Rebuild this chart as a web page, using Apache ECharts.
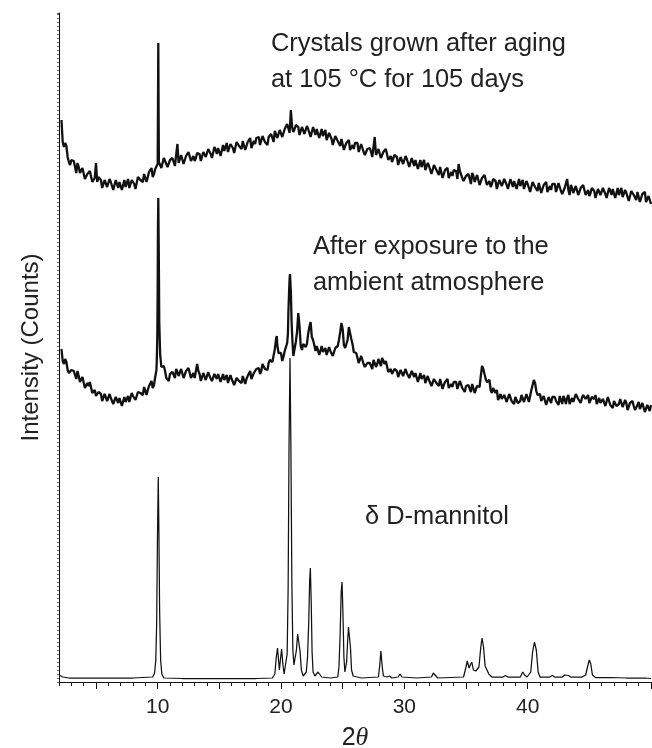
<!DOCTYPE html>
<html>
<head>
<meta charset="utf-8">
<script src="https://cdn.jsdelivr.net/npm/echarts@6.0.0/dist/echarts.min.js"></script>
<style>
html,body{margin:0;padding:0;background:#fff;}
#chart{width:652px;height:748px;}
</style>
</head>
<body>
<div id="chart"></div>
<script>
// ---- scan grid for the two measured (noisy) patterns: two interleaved sample sets ----
const gridStartA = 2.2;   // samples at 2.2, 2.4, ... 50.0
const gridStartB = 2.3;   // samples at 2.3, 2.5, ... 49.9
const gridStep = 0.2;

// Top pattern: crystals grown after aging at 105 °C for 105 days
const topY = [
  562,535,536,520,522,521,509,515,509,514,
  503,506,511,501,519,505,502,494,503,497,
  500,492,502,494,499,492,495,503,494,500,
  493,505,502,500,510,505,512,505,513,518,
  522,516,526,515,522,524,516,538,521,528,
  520,524,531,522,521,529,528,521,532,527,
  531,524,535,528,533,527,531,539,530,536,
  529,540,536,533,543,536,542,534,541,544,
  545,538,548,538,545,548,540,549,546,554,
  547,552,559,572,550,557,555,547,556,550,
  553,545,555,547,552,544,546,552,542,546,
  537,546,541,536,544,536,540,532,537,539,
  539,531,539,527,533,534,525,545,528,534,
  525,528,533,523,520,527,525,517,526,520,
  523,515,524,516,521,513,515,522,512,516,
  508,517,512,507,516,508,513,504,510,512,
  511,518,512,501,506,508,498,506,501,508,
  498,502,507,498,495,503,501,493,503,498,
  500,493,503,495,500,493,496,502,493,498,
  490,500,495,491,500,493,498,490,496,498,
  498,491,500,488,494,503,487,494,490,497,
  488,492,497,488,486,494,491,484,494,489,
  491,484,494,487,492,484,487,494,485,489,
  481,491,487,482,491,484,489,480,486,478
];
const topY2 = [
  540,539,525,517,522,515,519,509,514,503,
  508,511,500,504,500,505,494,502,495,503,
  496,492,498,500,492,502,494,494,502,498,
  495,504,502,508,500,510,514,508,511,520,
  514,524,518,514,524,520,527,519,527,518,
  526,530,521,526,524,530,521,530,525,533,
  528,524,532,534,526,537,530,530,538,534,
  530,539,535,541,532,540,544,536,538,543,
  537,546,540,537,547,544,551,544,552,545,
  553,558,549,555,553,558,547,555,548,556,
  549,545,551,553,544,553,544,542,549,543,
  537,544,539,543,532,539,542,533,533,538,
  530,538,530,526,534,530,535,527,533,524,
  530,533,522,526,522,528,517,525,518,526,
  519,514,520,522,513,522,514,512,519,514,
  508,515,510,515,504,512,514,506,506,510,
  503,511,504,499,508,503,509,500,507,497,
  504,507,497,501,498,504,493,502,496,503,
  497,493,499,501,493,503,494,493,501,496,
  491,498,494,499,489,497,500,492,492,497,
  490,499,491,487,496,492,497,489,496,487,
  494,497,487,492,489,494,484,493,487,494,
  488,484,491,493,484,494,486,485,492,487,
  482,490,485,490,480,488,490,482,482
];
const topPeakX = [10.02, 10.05, 10.08];
const topPeakY = [560, 639, 560];

// Middle pattern: after exposure to the ambient atmosphere
const midY = [
  333,318,320,309,312,311,303,306,301,304,
  295,296,298,290,286,290,288,282,288,283,
  284,278,285,279,282,277,280,286,282,286,
  282,290,289,287,296,292,297,294,305,390,
  328,313,311,302,308,310,304,310,308,313,
  306,309,313,306,304,318,308,302,309,304,
  306,301,308,303,306,301,302,307,300,303,
  297,304,301,299,307,303,307,303,309,313,
  314,311,318,312,319,322,319,343,329,329,
  325,330,370,390,326,340,369,336,338,335,
  348,360,342,331,334,328,330,334,328,331,
  326,334,336,350,353,334,342,354,338,330,
  327,320,324,315,319,319,313,319,318,324,
  324,318,319,311,308,313,311,306,312,308,
  309,304,311,305,307,301,303,307,300,302,
  296,303,299,296,303,297,300,294,298,300,
  300,295,300,292,296,297,290,294,291,297,
  306,313,303,298,292,294,289,282,288,284,
  285,280,287,282,285,279,281,287,282,286,
  282,297,299,287,288,281,284,278,283,285,
  285,280,286,278,283,284,278,284,282,287,
  281,284,288,282,279,285,283,278,284,280,
  281,276,284,278,281,276,278,282,276,279,
  273,280,276,273,280,274,277,271,275,277
];
const midY2 = [
  321,323,312,307,313,307,311,300,305,294,
  299,300,289,292,287,291,281,288,281,288,
  281,276,282,284,276,285,279,280,289,285,
  281,291,288,295,287,296,301,297,312,412,
  315,316,304,301,310,307,313,306,313,304,
  311,314,304,309,305,311,301,309,302,310,
  304,299,306,308,300,308,301,299,307,301,
  296,304,301,306,298,306,311,304,307,313,
  308,318,313,312,322,320,333,337,331,321,
  331,339,404,348,333,350,356,332,338,338,
  355,345,337,336,327,336,328,327,335,330,
  325,336,342,359,337,338,355,343,330,329,
  319,326,318,313,320,316,322,315,323,316,
  322,321,310,313,309,314,305,312,306,313,
  307,302,308,309,300,309,301,299,306,300,
  295,302,298,303,293,300,303,294,295,300,
  293,301,294,290,298,293,298,289,296,295,
  316,311,300,302,289,292,292,282,283,287,
  280,288,281,278,285,281,287,280,288,280,
  292,302,291,288,281,286,277,285,279,287,
  281,277,284,286,278,287,280,280,288,283,
  279,287,283,287,278,284,287,278,279,283,
  276,285,277,274,282,278,283,275,282,272,
  279,281,272,277,273,279,270,277,271
];
const midPeakX = [9.93, 9.97, 10.02, 10.05, 10.09, 10.13, 19.66, 20.56, 20.66, 20.73, 20.86, 20.94];
const midPeakY = [322, 345, 450, 484, 430, 360, 346, 348, 392, 408, 360, 338];

// Bottom pattern: reference delta D-mannitol
const refX = [
  2.0, 2.3, 2.8, 4, 6, 8, 9.6, 9.75, 9.85, 9.92,
  9.98, 10.05, 10.1, 10.16, 10.24, 10.34, 10.5, 12, 15, 18,
  19.3, 19.5, 19.62, 19.72, 19.8, 19.87, 19.95, 20.05, 20.15, 20.25,
  20.4, 20.5, 20.58, 20.65, 20.73, 20.8, 20.88, 20.96, 21.05, 21.15,
  21.25, 21.35, 21.45, 21.55, 21.65, 21.8, 21.95, 22.05, 22.15, 22.25,
  22.32, 22.38, 22.45, 22.52, 22.6, 22.75, 22.9, 23.0, 23.1, 23.3,
  24.0, 24.6, 24.7, 24.8, 24.88, 24.95, 25.02, 25.1, 25.18, 25.25,
  25.32, 25.4, 25.47, 25.55, 25.63, 25.72, 25.85, 26.5, 27.9, 28.0,
  28.1, 28.2, 28.3, 28.6, 28.8, 29.0, 29.5, 29.65, 29.8, 31,
  32.2, 32.35, 32.5, 32.7, 34.8, 35.0, 35.1, 35.25, 35.35, 35.47,
  35.6, 35.8, 36.05, 36.2, 36.3, 36.42, 36.55, 36.7, 36.85, 37.1,
  38.0, 38.2, 38.4, 39.4, 39.6, 39.75, 39.95, 40.25, 40.4, 40.55,
  40.7, 40.85, 41.0, 41.8, 42.0, 42.2, 42.8, 43.0, 43.3, 43.5,
  44.4, 44.7, 44.85, 45.0, 45.12, 45.25, 45.5, 46.4, 46.55, 46.7,
  48, 49.5, 50
];
const refY = [
  7, 5, 4, 4, 4, 4, 5, 9, 22, 60,
  140, 205, 150, 70, 22, 8, 4, 3.5, 3.5, 3.5,
  4, 8, 25, 34, 22, 12, 22, 33, 18, 8,
  10, 28, 95, 235, 324, 240, 100, 32, 17, 16,
  32, 48, 46, 30, 12, 6, 6, 10, 25, 60,
  100, 114, 80, 30, 10, 6, 8, 10, 8, 5,
  4, 5, 15, 50, 90, 100, 70, 25, 10, 10,
  20, 40, 55, 54, 35, 12, 6, 4, 5, 16,
  31, 16, 6, 5, 6, 4, 5, 8, 5, 4,
  5, 9, 7, 4, 5, 15, 21, 14, 17, 20,
  12, 11, 15, 35, 44, 35, 16, 14, 8, 5,
  5, 6.5, 5, 5, 10, 7, 5, 10, 30, 40,
  32, 10, 5, 5, 6.5, 5, 5, 7, 6.5, 5,
  5, 7, 15, 22, 18, 7, 4.5, 4.5, 6, 4.5,
  4, 4, 3.5
];

// axis ticks / labels
const xMajorTicks = [5, 10, 15, 20, 25, 30, 35, 40, 45, 50];
const xLabels = [10, 20, 30, 40];
const xMinorTicks = [2,3,4,5,6,7,8,9,10,11,12,13,14,15,16,17,18,19,20,21,22,23,24,25,26,27,28,29,30,31,32,33,34,35,36,37,38,39,40,41,42,43,44,45,46,47,48,49,50];

function buildSeries(yA, yB, px, py) {
  const pts = [];
  yA.forEach((y, i) => pts.push([Math.round((gridStartA + i * gridStep) * 100) / 100, y]));
  yB.forEach((y, i) => pts.push([Math.round((gridStartB + i * gridStep) * 100) / 100, y]));
  px.forEach((x, i) => pts.push([x, py[i]]));
  pts.sort((a, b) => a[0] - b[0]);
  return pts;
}
const topData = buildSeries(topY, topY2, topPeakX, topPeakY);
const midData = buildSeries(midY, midY2, midPeakX, midPeakY);
const refData = refX.map((x, i) => [x, refY[i]]);

const FONT = '"Liberation Sans", Arial, Helvetica, sans-serif';
const chart = echarts.init(document.getElementById('chart'), null, {renderer: 'canvas'});
const noisyLine = {color: '#111', width: 2.3, join: 'bevel'};
const refLine = {color: '#111', width: 1.25};

chart.setOption({
  animation: false,
  backgroundColor: '#ffffff',
  grid: {left: 59, right: 1, top: 13, bottom: 66, containLabel: false, outerBoundsMode: 'none'},
  xAxis: [
    {
      type: 'value', min: 2, max: 50, position: 'bottom',
      axisLine: {show: true, onZero: false, lineStyle: {color: '#111', width: 1}},
      axisTick: {show: true, customValues: xMajorTicks, length: 7, lineStyle: {color: '#111', width: 1}},
      axisLabel: {show: true, customValues: xLabels, fontSize: 21, color: '#222', fontFamily: FONT, margin: 15},
      splitLine: {show: false},
      name: '2{t|θ}',
      nameLocation: 'middle',
      nameGap: 43,
      nameTextStyle: {
        fontSize: 25, color: '#222', fontFamily: FONT,
        rich: {t: {fontSize: 26, fontStyle: 'italic', fontFamily: '"Liberation Serif", "DejaVu Serif", serif', color: '#222'}}
      }
    },
    {
      type: 'value', min: 2, max: 50, position: 'bottom', offset: 0,
      axisLine: {show: false, onZero: false},
      axisTick: {show: true, customValues: xMinorTicks, length: 4, lineStyle: {color: '#111', width: 1}},
      axisLabel: {show: false},
      splitLine: {show: false}
    }
  ],
  yAxis: {
    type: 'value', min: 0, max: 669, interval: 4,
    axisLine: {show: true, lineStyle: {color: '#111', width: 1}},
    axisTick: {show: true, length: 2, lineStyle: {color: '#666', width: 1}},
    axisLabel: {show: false},
    splitLine: {show: false},
    name: 'Intensity (Counts)',
    nameLocation: 'middle',
    nameGap: 16,
    nameTextStyle: {fontSize: 24, color: '#222', fontFamily: FONT}
  },
  series: [
    {type: 'line', name: 'aged', data: topData, showSymbol: false, xAxisIndex: 0, lineStyle: noisyLine, itemStyle: {color: '#111'}},
    {type: 'line', name: 'exposed', data: midData, showSymbol: false, xAxisIndex: 0, lineStyle: noisyLine, itemStyle: {color: '#111'}},
    {type: 'line', name: 'delta', data: refData, showSymbol: false, xAxisIndex: 0, lineStyle: refLine, itemStyle: {color: '#111'}}
  ],
  graphic: [
    {type: 'text', x: 271, y: 31, style: {text: 'Crystals grown after aging', font: '25.4px ' + FONT, fill: '#222'}},
    {type: 'text', x: 271, y: 67, style: {text: 'at 105 °C for 105 days', font: '25.4px ' + FONT, fill: '#222'}},
    {type: 'text', x: 313, y: 234, style: {text: 'After exposure to the', font: '25.4px ' + FONT, fill: '#222'}},
    {type: 'text', x: 313, y: 270, style: {text: 'ambient atmosphere', font: '25.4px ' + FONT, fill: '#222'}},
    {type: 'text', x: 365, y: 504, style: {text: 'δ D-mannitol', font: '25.4px ' + FONT, fill: '#222'}}
  ]
});
</script>
</body>
</html>
